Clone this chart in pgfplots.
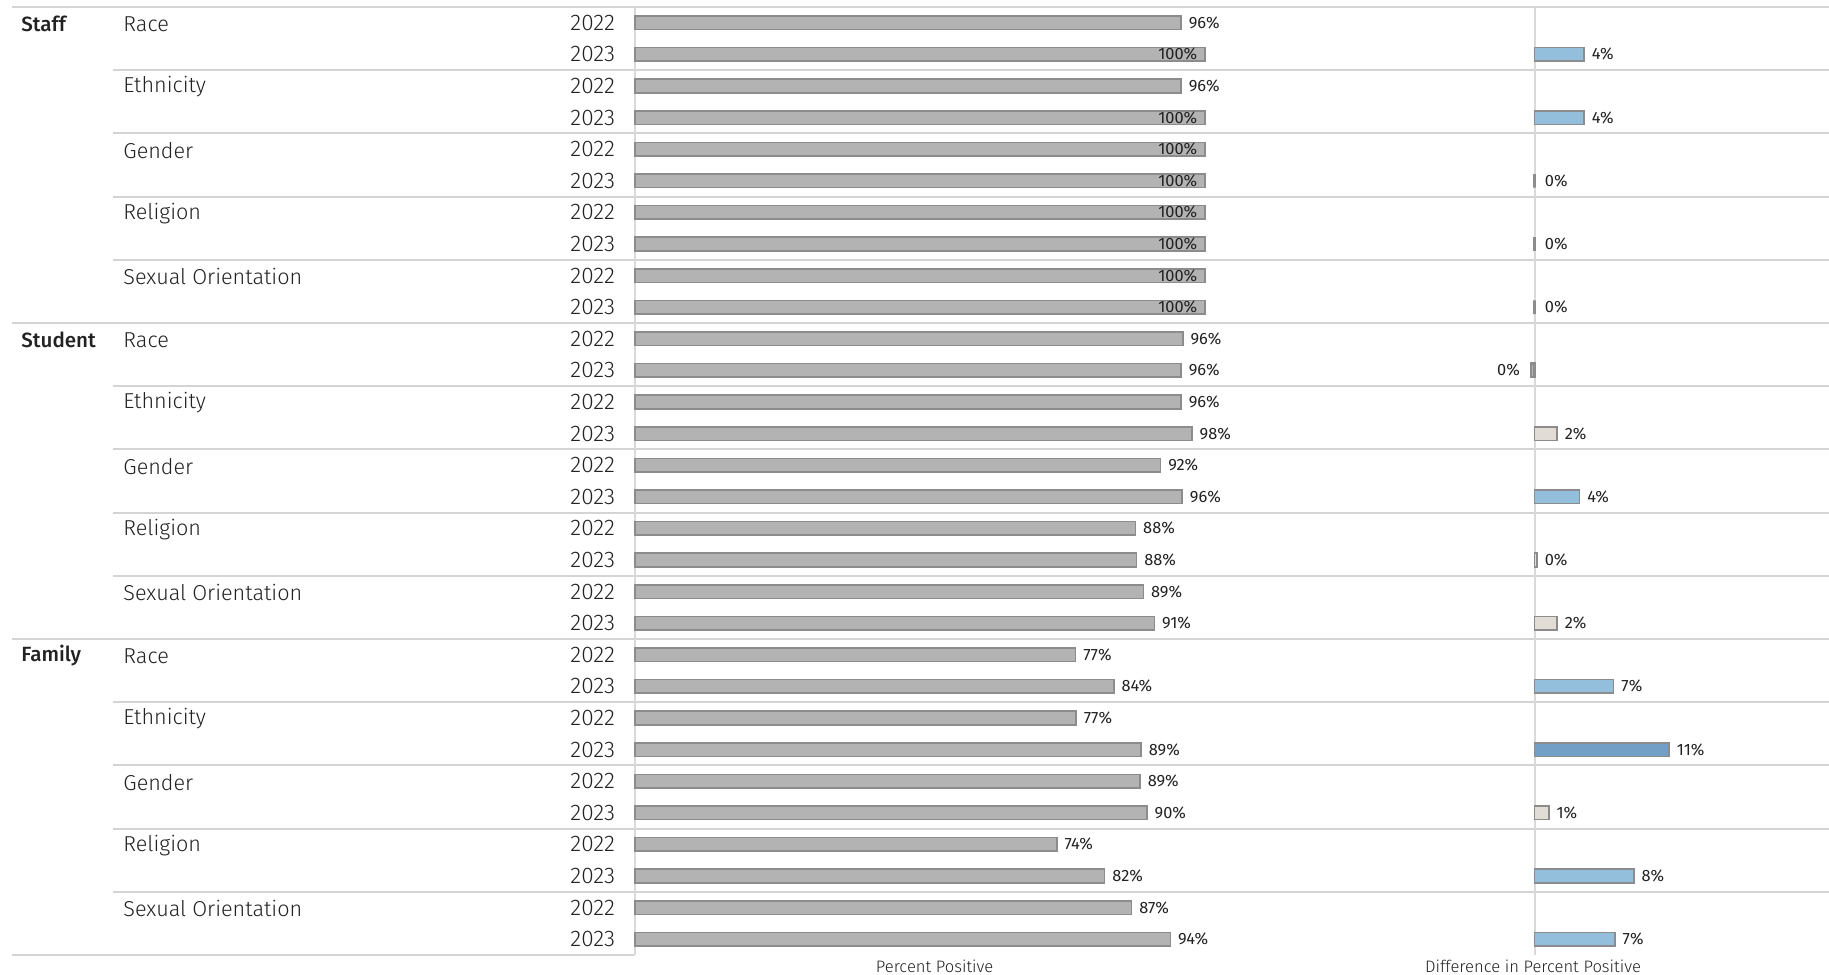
\documentclass[border=0pt]{standalone}
\usepackage{pgfplots}
\pgfplotsset{compat=1.18}
\usepackage{pgfplotstable}
\usepackage{fontspec}
\setmainfont{Fira Sans}
\newfontfamily\lightfont{Fira Sans Light}
\newfontfamily\medfont{Fira Sans Medium}
\definecolor{barfill}{HTML}{B3B3B3}
\definecolor{barline}{HTML}{8C8C8C}
\definecolor{sepline}{HTML}{D4D4D4}
\definecolor{vline}{HTML}{D9D9D9}
\definecolor{lblue}{HTML}{93BFDC}
\definecolor{dblue}{HTML}{729FC6}
\definecolor{beige}{HTML}{E1DDD6}
\definecolor{txt}{HTML}{222222}

% Percent positive, labels outside the bar
\pgfplotstableread{
row val lab
1 95.8 96
3 95.8 96
11 96.1 96
12 95.8 96
13 95.8 96
14 97.7 98
15 92.2 92
16 96.0 96
17 87.8 88
18 88.0 88
19 89.2 89
20 91.1 91
21 77.3 77
22 84.0 84
23 77.4 77
24 88.8 89
25 88.6 89
26 89.8 90
27 74.0 74
28 82.4 82
29 87.1 87
30 93.9 94
}\pctout
% Percent positive, labels inside the bar
\pgfplotstableread{
row val lab
2 100 100
4 100 100
5 100 100
6 100 100
7 100 100
8 100 100
9 100 100
10 100 100
}\pctin
% Differences
\pgfplotstableread{
row val lab
6 0 0
8 0 0
10 0 0
}\dzero
\pgfplotstableread{
row val lab
12 -0.3 0
}\dneg
\pgfplotstableread{
row val lab
14 1.9 2
18 0.2 0
20 1.9 2
26 1.2 1
}\dbeige
\pgfplotstableread{
row val lab
2 4.2 4
4 4.2 4
16 3.8 4
22 6.7 7
28 8.4 8
30 6.8 7
}\dlblue
\pgfplotstableread{
row val lab
24 11.4 11
}\ddblue

\pgfplotsset{
  panel/.style={
    scale only axis, height=474pt,
    ymin=0.5, ymax=30.5, y dir=reverse,
    xbar, bar width=6.8pt, bar shift=0pt,
    axis line style={draw=none}, tick style={draw=none},
    xtick=\empty, clip=false,
    point meta=explicit symbolic,
    nodes near coords={\pgfplotspointmeta\%},
    every node near coord/.append style={font=\fontsize{8.2}{9}\selectfont, text=txt, inner sep=0pt},
  },
  bars/.style={draw=barline, line width=0.75pt, fill=barfill},
}

\begin{document}
\begin{tikzpicture}
\path[use as bounding box] (0,0) rectangle (914.5pt,487pt);

% separators
\foreach \k in {2,4,6,8,12,14,16,18,22,24,26,28}{
  \draw[sepline, line width=1pt] (56.5pt,{(483.5-15.8*\k)*1pt}) -- (914.5pt,{(483.5-15.8*\k)*1pt});
}
\foreach \k in {0,10,20}{
  \draw[sepline, line width=1pt] (6pt,{(483.5-15.8*\k)*1pt}) -- (914.5pt,{(483.5-15.8*\k)*1pt});
}
\draw[sepline, line width=1pt] (6pt,9.5pt) -- (317.5pt,9.5pt);
\draw[vline, line width=0.8pt] (317.5pt,9.5pt) -- (317.5pt,483.5pt);
\draw[vline, line width=0.8pt] (767.5pt,9.5pt) -- (767.5pt,483.5pt);

% row headers
\foreach \r/\t in {1/Staff,11/Student,21/Family}{
  \node[anchor=west, inner sep=0pt, text=txt, font=\medfont\fontsize{10.3}{12}\selectfont] at (10.5pt,{(483.2-15.8*(\r-0.5))*1pt}) {\t};
}
\foreach \r/\t in {1/Race,3/Ethnicity,5/Gender,7/Religion,9/Sexual Orientation,
                   11/Race,13/Ethnicity,15/Gender,17/Religion,19/Sexual Orientation,
                   21/Race,23/Ethnicity,25/Gender,27/Religion,29/Sexual Orientation}{
  \node[anchor=west, inner sep=0pt, text=txt, font=\lightfont\fontsize{10.8}{12}\selectfont] at (61.5pt,{(483.0-15.8*(\r-0.5))*1pt}) {\t};
}

% left panel
\begin{axis}[panel, at={(317.5pt,9.5pt)}, anchor=south west, width=300pt,
  xmin=0, xmax=105.26,
  ytick={1,...,30},
  yticklabels={2022,2023,2022,2023,2022,2023,2022,2023,2022,2023,2022,2023,2022,2023,2022,2023,2022,2023,2022,2023,2022,2023,2022,2023,2022,2023,2022,2023,2022,2023},
  yticklabel style={font=\lightfont\fontsize{11.3}{12}\selectfont, anchor=east, inner sep=0pt, xshift=-5.5pt, text=txt},
]
\addplot[bars, every node near coord/.append style={anchor=west, xshift=3.5pt}] table[x=val, y=row, meta=lab] {\pctout};
\addplot[bars, every node near coord/.append style={anchor=east, xshift=-3.5pt}] table[x=val, y=row, meta=lab] {\pctin};
\end{axis}

% right panel
\begin{axis}[panel, at={(617.5pt,9.5pt)}, anchor=south west, width=297pt,
  xmin=-25.4, xmax=24.95, ytick=\empty,
]
\addplot[draw=barline, line width=1.2pt, fill=barfill, every node near coord/.append style={anchor=west, xshift=4.5pt}] table[x=val, y=row, meta=lab] {\dzero};
\addplot[draw=barline, line width=1.2pt, fill=barfill, every node near coord/.append style={anchor=east, xshift=-5pt}] table[x=val, y=row, meta=lab] {\dneg};
\addplot[draw=barline, line width=0.75pt, fill=beige, every node near coord/.append style={anchor=west, xshift=3.5pt}] table[x=val, y=row, meta=lab] {\dbeige};
\addplot[draw=barline, line width=0.75pt, fill=lblue, every node near coord/.append style={anchor=west, xshift=3.5pt}] table[x=val, y=row, meta=lab] {\dlblue};
\addplot[draw=barline, line width=0.75pt, fill=dblue, every node near coord/.append style={anchor=west, xshift=3.5pt}] table[x=val, y=row, meta=lab] {\ddblue};
\end{axis}

% axis titles
\node[font=\lightfont\fontsize{8.3}{9}\selectfont, text=txt] at (467.3pt,4pt) {Percent Positive};
\node[font=\lightfont\fontsize{8.3}{9}\selectfont, text=txt] at (766.5pt,4pt) {Difference in Percent Positive};
\end{tikzpicture}
\end{document}
